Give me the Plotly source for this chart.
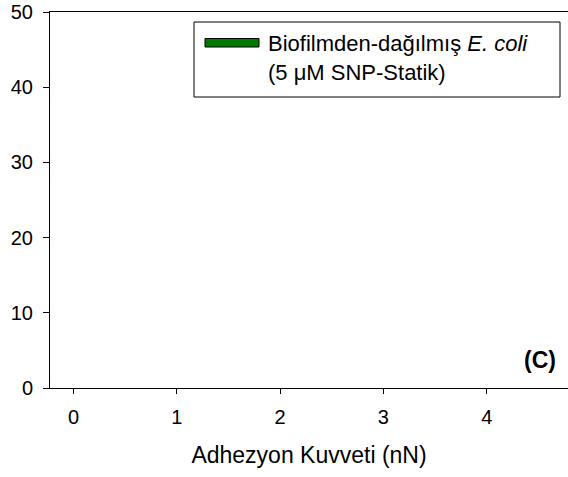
import plotly.graph_objects as go

# Data
force_bins = [0, 1, 2, 3, 4]
counts = [0, 0, 0, 0, 0]
series_name = "Biofilmden-dağılmış <i>E. coli</i><br>(5 μM SNP-Statik)"
x_title = "Adhezyon Kuvveti (nN)"
y_ticks = [0, 10, 20, 30, 40, 50]
x_ticks = [0, 1, 2, 3, 4]
panel_label = "(C)"

FONT = "Liberation Sans, Arial, sans-serif"
W, H = 568, 477
L, R, T, B = 50, 0, 12, 89
PW, PH = W - L - R, H - T - B

def px(x):
    return (x - L) / PW

def py(y):
    return (H - B - y) / PH

fig = go.Figure()
fig.add_trace(go.Bar(
    x=force_bins, y=counts, name=series_name,
    marker=dict(color="#007a00", line=dict(color="black", width=0)),
    showlegend=False, width=0.8,
))

# custom legend box
fig.add_shape(type="rect", xref="paper", yref="paper",
              x0=px(194), x1=px(560), y0=py(97), y1=py(22),
              line=dict(color="black", width=1), fillcolor="white")
fig.add_shape(type="rect", xref="paper", yref="paper",
              x0=px(205), x1=px(259), y0=py(47), y1=py(38.5),
              line=dict(color="black", width=1), fillcolor="#007a00")
fig.add_annotation(xref="paper", yref="paper", x=px(266), y=py(58),
                   text=series_name, showarrow=False, xanchor="left", yanchor="middle",
                   align="left", font=dict(family=FONT, size=22, color="black"))
fig.add_annotation(xref="paper", yref="paper", x=px(558), y=py(360),
                   text="<b>" + panel_label + "</b>", showarrow=False,
                   xanchor="right", yanchor="middle",
                   font=dict(family=FONT, size=23, color="black"))

x0_px, unit = 73.5, 103.3
fig.update_layout(
    width=W, height=H,
    margin=dict(l=L, r=R, t=T, b=B, pad=0),
    plot_bgcolor="white", paper_bgcolor="white",
    font=dict(family=FONT, size=20, color="black"),
    bargap=0.2,
    xaxis=dict(range=[(L - x0_px) / unit, (W - x0_px) / unit],
               tickvals=x_ticks, ticktext=[str(v) for v in x_ticks],
               ticks="outside", ticklen=5, tickwidth=1, tickcolor="black",
               ticklabelstandoff=6,
               showline=True, linecolor="black", linewidth=1, mirror=True,
               showgrid=False, zeroline=False,
               title=dict(text=x_title, font=dict(size=23), standoff=19)),
    yaxis=dict(range=[0, 50], tickvals=y_ticks,
               ticks="outside", ticklen=6, tickwidth=1, tickcolor="black",
               ticklabelstandoff=6,
               showline=True, linecolor="black", linewidth=1,
               showgrid=False, zeroline=False),
)
fig.write_html("out.html")
